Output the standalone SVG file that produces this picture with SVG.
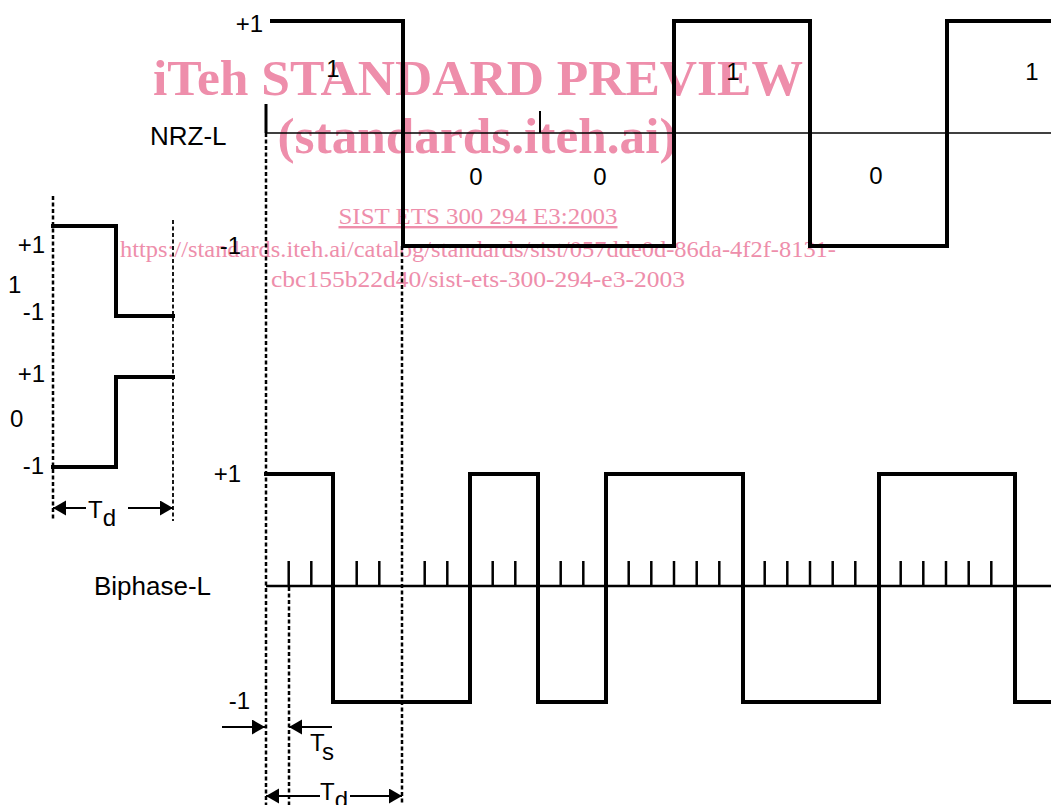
<svg xmlns="http://www.w3.org/2000/svg" width="1051" height="805" viewBox="0 0 1051 805">
<style>
.wm{fill:#ee8eab;font-family:"Liberation Serif","Times New Roman",serif}
.wb{font-weight:bold;font-size:51px}
.wr{font-size:24px}
.t{font-family:"Liberation Sans",Arial,sans-serif;font-size:24px;fill:#000}
.lbl{font-size:26px}
.wave{fill:none;stroke:#000;stroke-width:4;stroke-linejoin:miter;stroke-linecap:square}
.dash{fill:none;stroke:#000;stroke-width:2.5;stroke-dasharray:4 2.5}
.dashthin{fill:none;stroke:#000;stroke-width:1.8;stroke-dasharray:4 2.5}
.axis{stroke:#000;fill:none}
.tick{stroke:#000;stroke-width:2.5}
.arr{stroke:#000;stroke-width:2;fill:none;marker-end:url(#ah)}
</style>
<defs>
<marker id="ah" markerUnits="userSpaceOnUse" markerWidth="14" markerHeight="16" refX="13" refY="7.5" orient="auto">
<path d="M0,0 L13,7.5 L0,15 z" fill="#000"/>
</marker>
</defs>
<rect width="1051" height="805" fill="#fff"/>
<g id="watermark">
<text class="wm wb" x="478" y="95" text-anchor="middle" textLength="650" lengthAdjust="spacingAndGlyphs">iTeh STANDARD PREVIEW</text>
<text class="wm wb" x="477" y="153" text-anchor="middle" textLength="399" lengthAdjust="spacingAndGlyphs">(standards.iteh.ai)</text>
<text class="wm wr" x="478" y="224" text-anchor="middle" textLength="279" lengthAdjust="spacingAndGlyphs" text-decoration="underline">SIST ETS 300 294 E3:2003</text>
<text class="wm wr" x="478" y="257" text-anchor="middle" textLength="716" lengthAdjust="spacingAndGlyphs">https://standards.iteh.ai/catalog/standards/sist/057dde0d-86da-4f2f-8131-</text>
<text class="wm wr" x="478" y="287" text-anchor="middle" textLength="414" lengthAdjust="spacingAndGlyphs">cbc155b22d40/sist-ets-300-294-e3-2003</text>
</g>
<g id="guides">
<line class="dash" x1="266" y1="133" x2="266" y2="805"/>
<line class="dash" x1="402" y1="246" x2="402" y2="805"/>
<line class="dash" x1="289" y1="587" x2="289" y2="805"/>
<line class="dash" x1="53" y1="196" x2="53" y2="521"/>
<line class="dashthin" x1="173" y1="220" x2="173" y2="521"/>
</g>
<g id="nrz-l">
<line class="axis" stroke-width="1.5" x1="266" y1="133" x2="1051" y2="133"/>
<line class="axis" stroke-width="3" x1="266" y1="104" x2="266" y2="133"/>
<line class="axis" stroke-width="2" x1="540" y1="111" x2="540" y2="133"/>
<path class="wave" d="M272,21 H403 V246 H674 V21 H810 V246 H947 V21 H1053"/>
<text class="t lbl" x="150" y="145">NRZ-L</text>
<text class="t" x="263" y="32" text-anchor="end">+1</text>
<text class="t" x="241" y="254" text-anchor="end">-1</text>
<text class="t" x="333" y="77" text-anchor="middle">1</text>
<text class="t" x="476" y="185" text-anchor="middle">0</text>
<text class="t" x="600" y="185" text-anchor="middle">0</text>
<text class="t" x="733" y="80" text-anchor="middle">1</text>
<text class="t" x="876" y="184" text-anchor="middle">0</text>
<text class="t" x="1032" y="80" text-anchor="middle">1</text>
</g>
<g id="biphase-l">
<line class="axis" stroke-width="2.5" x1="266" y1="586" x2="1051" y2="586"/>
<g id="ticks">
<line class="tick" x1="288.7" y1="561" x2="288.7" y2="586"/>
<line class="tick" x1="311.3" y1="561" x2="311.3" y2="586"/>
<line class="tick" x1="356.7" y1="561" x2="356.7" y2="586"/>
<line class="tick" x1="379.3" y1="561" x2="379.3" y2="586"/>
<line class="tick" x1="424.7" y1="561" x2="424.7" y2="586"/>
<line class="tick" x1="447.3" y1="561" x2="447.3" y2="586"/>
<line class="tick" x1="492.7" y1="561" x2="492.7" y2="586"/>
<line class="tick" x1="515.3" y1="561" x2="515.3" y2="586"/>
<line class="tick" x1="560.7" y1="561" x2="560.7" y2="586"/>
<line class="tick" x1="583.3" y1="561" x2="583.3" y2="586"/>
<line class="tick" x1="628.7" y1="561" x2="628.7" y2="586"/>
<line class="tick" x1="651.3" y1="561" x2="651.3" y2="586"/>
<line class="tick" x1="674" y1="561" x2="674" y2="586"/>
<line class="tick" x1="696.7" y1="561" x2="696.7" y2="586"/>
<line class="tick" x1="719.3" y1="561" x2="719.3" y2="586"/>
<line class="tick" x1="764.7" y1="561" x2="764.7" y2="586"/>
<line class="tick" x1="787.3" y1="561" x2="787.3" y2="586"/>
<line class="tick" x1="810" y1="561" x2="810" y2="586"/>
<line class="tick" x1="832.7" y1="561" x2="832.7" y2="586"/>
<line class="tick" x1="855.3" y1="561" x2="855.3" y2="586"/>
<line class="tick" x1="900.7" y1="561" x2="900.7" y2="586"/>
<line class="tick" x1="923.3" y1="561" x2="923.3" y2="586"/>
<line class="tick" x1="946" y1="561" x2="946" y2="586"/>
<line class="tick" x1="968.7" y1="561" x2="968.7" y2="586"/>
<line class="tick" x1="991.3" y1="561" x2="991.3" y2="586"/>
</g>
<path class="wave" d="M266,474 H333 V702 H470 V474 H538 V702 H606 V474 H743 V702 H879 V474 H1015 V702 H1053"/>
<text class="t lbl" x="94" y="595">Biphase-L</text>
<text class="t" x="241" y="482" text-anchor="end">+1</text>
<text class="t" x="250" y="709" text-anchor="end">-1</text>
</g>
<g id="legend">
<path class="wave" d="M53,226 H116 V316 H173"/>
<path class="wave" d="M53,467 H116 V377 H173"/>
<text class="t" x="45" y="253" text-anchor="end">+1</text>
<text class="t" x="8" y="293">1</text>
<text class="t" x="44" y="320" text-anchor="end">-1</text>
<text class="t" x="45" y="382" text-anchor="end">+1</text>
<text class="t" x="10" y="427">0</text>
<text class="t" x="44" y="474" text-anchor="end">-1</text>
</g>
<g id="connectors">
<line class="arr" x1="86" y1="508" x2="53" y2="508"/>
<line class="arr" x1="128" y1="508" x2="173" y2="508"/>
<line class="arr" x1="222" y1="727" x2="265" y2="727"/>
<line class="arr" x1="332" y1="727" x2="289" y2="727"/>
<line class="arr" x1="320" y1="796" x2="266" y2="796"/>
<line class="arr" x1="350" y1="796" x2="402" y2="796"/>
</g>
<g id="dimension-labels">
<text class="t" font-size="26" x="88" y="518">T<tspan font-size="24" dy="8">d</tspan></text>
<text class="t" font-size="26" x="310" y="751">T<tspan font-size="24" dy="9">s</tspan></text>
<text class="t" font-size="26" x="320" y="800">T<tspan font-size="24" dy="8">d</tspan></text>
</g>
</svg>
